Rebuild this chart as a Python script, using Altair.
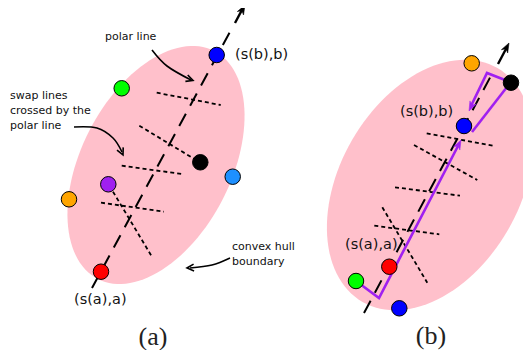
import altair as alt
import pandas as pd
import numpy as np

# ---------------- data ----------------
# convex hull ellipses (centre, semi-axes, tilt in degrees)
hull_cx = [156, 430]
hull_cy = [165, 185]
hull_a = [128, 135]
hull_b = [75, 90]
hull_tilt = [63, 60]

# coloured vertices
pt_x = [216.7, 121.7, 200.3, 232.7, 108.3, 69.0, 101.0,
        471.7, 511.0, 464.0, 389.3, 356.0, 399.3]
pt_y = [55.0, 88.3, 162.3, 176.7, 184.3, 199.3, 271.7,
        63.3, 82.7, 126.0, 266.7, 281.0, 308.3]
pt_color = ["#0000FF", "#00FF00", "#000000", "#1E90FF", "#A020F0", "#FFA500", "#FF0000",
            "#FFA500", "#000000", "#0000FF", "#FF0000", "#00FF00", "#0000FF"]

# polar lines (dashed)
polar_id = ["a", "a", "b", "b"]
polar_x = [92, 232, 364, 493]
polar_y = [288, 28, 313, 72]

# polar line arrow shafts
shaft_id = ["a", "a", "b", "b"]
shaft_x = [235, 243, 498, 507]
shaft_y = [23, 8, 64, 47]

# swap lines (dotted)
swap_id = ["a1", "a1", "a2", "a2", "a3", "a3", "a4", "a4", "a5", "a5",
           "b1", "b1", "b2", "b2", "b3", "b3", "b4", "b4", "b5", "b5"]
swap_x = [156.7, 220.7, 139.3, 196.0, 121.7, 184.0, 101.0, 164.0, 113.0, 152.3,
          426.7, 492.7, 414.0, 477.3, 395.0, 460.0, 374.3, 439.3, 382.3, 427.3]
swap_y = [92.7, 105.0, 125.7, 160.0, 165.7, 174.3, 202.7, 211.7, 191.7, 257.3,
          133.3, 145.7, 145.0, 180.0, 187.3, 195.7, 225.7, 234.3, 207.3, 282.7]

# purple walk in panel (b)
walk_id = ["p1", "p1", "p1", "p2", "p2", "p3", "p3", "p3"]
walk_x = [356, 379, 458, 472, 507, 505, 487, 471]
walk_y = [281, 298, 146, 132, 87, 80, 73, 106]

# annotation curves
note_id = ["n1", "n1", "n1", "n2", "n2", "n2", "n2", "n3", "n3", "n3"]
note_x = [152, 167, 191, 74, 97, 113, 122, 230, 212, 190]
note_y = [50, 66, 80, 127, 128, 138, 152, 258, 265, 268]

# arrow heads: tip position, direction (deg clockwise from up)
head_x = [245, 509, 461, 469]
head_y = [5, 43, 140, 111]
head_ang = [29, 28, 27, 206]
head_color = ["#000000", "#000000", "#A020F0", "#A020F0"]

chev_x = [193, 123, 187]
chev_y = [80.5, 155, 268]
chev_ang = [110, 155, 266]

# labels
small_text = ["polar line", "swap lines", "crossed by the", "polar line", "convex hull", "boundary"]
small_x = [105, 10, 10, 10, 232, 232]
small_y = [37, 96, 111, 126, 247, 262]

big_text = ["(s(b),b)", "(s(a),a)", "(s(b),b)", "(s(a),a)"]
big_x = [235, 74, 400, 345]
big_y = [55, 300, 112, 245]

cap_text = ["(a)", "(b)"]
cap_x = [153, 431]
cap_y = [345, 344]

# ---------------- chart ----------------
X = alt.X("x:Q", scale=alt.Scale(domain=[8, 523], nice=False, zero=False), axis=None)
Y = alt.Y("y:Q", scale=alt.Scale(domain=[8, 350], nice=False, zero=False, reverse=True), axis=None)


def ellipse_path(a, b, tilt):
    t = np.linspace(0, 2 * np.pi, 121)[:-1]
    phi = np.radians(tilt)
    u = a * np.cos(t)
    v = b * np.sin(t)
    xs = (u * np.cos(phi) + v * np.sin(phi)) / a
    ys = (-u * np.sin(phi) + v * np.cos(phi)) / a
    return "M " + " L ".join(f"{p:.4f} {q:.4f}" for p, q in zip(xs, ys)) + " Z"


layers = []
for cx, cy, a, b, tilt in zip(hull_cx, hull_cy, hull_a, hull_b, hull_tilt):
    layers.append(
        alt.Chart(pd.DataFrame({"x": [cx], "y": [cy]}))
        .mark_point(shape=ellipse_path(a, b, tilt), size=4 * a * a, filled=True,
                    fill="#FFC0CB", stroke=None, opacity=1)
        .encode(x=X, y=Y)
    )

swap_df = pd.DataFrame({"id": swap_id, "x": swap_x, "y": swap_y, "o": list(range(len(swap_x)))})
layers.append(
    alt.Chart(swap_df).mark_line(color="black", strokeWidth=1.8, strokeDash=[4, 3])
    .encode(x=X, y=Y, detail="id:N", order="o:Q")
)

polar_df = pd.DataFrame({"id": polar_id, "x": polar_x, "y": polar_y, "o": list(range(4))})
layers.append(
    alt.Chart(polar_df).mark_line(color="black", strokeWidth=2, strokeDash=[14, 9])
    .encode(x=X, y=Y, detail="id:N", order="o:Q")
)

shaft_df = pd.DataFrame({"id": shaft_id, "x": shaft_x, "y": shaft_y, "o": list(range(4))})
layers.append(
    alt.Chart(shaft_df).mark_line(color="black", strokeWidth=2.4)
    .encode(x=X, y=Y, detail="id:N", order="o:Q")
)

walk_df = pd.DataFrame({"id": walk_id, "x": walk_x, "y": walk_y, "o": list(range(len(walk_x)))})
layers.append(
    alt.Chart(walk_df).mark_line(color="#A020F0", strokeWidth=2.6, strokeJoin="miter")
    .encode(x=X, y=Y, detail="id:N", order="o:Q")
)

note_df = pd.DataFrame({"id": note_id, "x": note_x, "y": note_y, "o": list(range(len(note_x)))})
layers.append(
    alt.Chart(note_df).mark_line(color="black", strokeWidth=1.6, interpolate="cardinal")
    .encode(x=X, y=Y, detail="id:N", order="o:Q")
)

head_df = pd.DataFrame({"x": head_x, "y": head_y, "ang": head_ang, "c": head_color})
layers.append(
    alt.Chart(head_df).mark_point(shape="M 0 0 L 0.6 1.6 L 0 1.1 L -0.6 1.6 Z", size=140,
                                  filled=True, opacity=1, strokeWidth=0.5)
    .encode(x=X, y=Y, angle=alt.Angle("ang:Q", scale=None),
            fill=alt.Fill("c:N", scale=None), stroke=alt.Stroke("c:N", scale=None))
)

chev_df = pd.DataFrame({"x": chev_x, "y": chev_y, "ang": chev_ang})
layers.append(
    alt.Chart(chev_df).mark_point(shape="M -0.6 1.2 L 0 0 L 0.6 1.2", size=130, filled=False,
                                  stroke="black", strokeWidth=1.6, opacity=1)
    .encode(x=X, y=Y, angle=alt.Angle("ang:Q", scale=None))
)

pt_df = pd.DataFrame({"x": pt_x, "y": pt_y, "c": pt_color})
layers.append(
    alt.Chart(pt_df).mark_circle(size=240, opacity=1, stroke="black", strokeWidth=1)
    .encode(x=X, y=Y, color=alt.Color("c:N", scale=None))
)

small_df = pd.DataFrame({"x": small_x, "y": small_y, "t": small_text})
layers.append(
    alt.Chart(small_df).mark_text(font="DejaVu Sans", fontSize=11, align="left",
                                  baseline="middle", color="#111111")
    .encode(x=X, y=Y, text="t:N")
)

big_df = pd.DataFrame({"x": big_x, "y": big_y, "t": big_text})
layers.append(
    alt.Chart(big_df).mark_text(font="DejaVu Sans", fontSize=14.5, align="left",
                                baseline="middle", color="#111111")
    .encode(x=X, y=Y, text="t:N")
)

cap_df = pd.DataFrame({"x": cap_x, "y": cap_y, "t": cap_text})
layers.append(
    alt.Chart(cap_df).mark_text(font="Liberation Serif", fontSize=26, align="center",
                                baseline="alphabetic", color="#222222")
    .encode(x=X, y=Y, text="t:N")
)

chart = (
    alt.layer(*layers)
    .properties(width=515, height=342, padding=0, autosize=alt.AutoSizeParams(type="none"))
    .configure_view(stroke=None)
)

chart.save("out.html", embed_options={"renderer": "svg", "actions": False})
